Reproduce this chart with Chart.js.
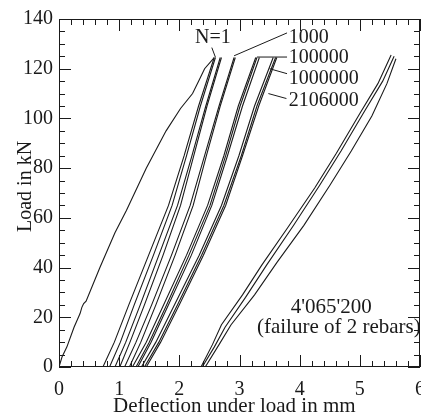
<!DOCTYPE html>
<html>
<head>
<meta charset="utf-8">
<script src="https://cdn.jsdelivr.net/npm/chart.js@4.4.0/dist/chart.umd.min.js"></script>
<style>
  html, body { margin: 0; padding: 0; background: #fff; }
</style>
</head>
<body>
<canvas id="load-chart" width="421" height="419"></canvas>
<script>
// first loading, N=1
const n1Defl = [0, 0.05, 0.13, 0.25, 0.35, 0.38, 0.41, 0.45, 0.68, 0.93, 1.12, 1.45, 1.78, 2.02, 2.22, 2.33, 2.42, 2.58];
const n1Load = [0, 4, 8, 16, 21.5, 24, 25.5, 26.5, 40, 54, 63, 80, 95, 104, 110, 115.5, 120, 124.5];

// load/unload branches N=1 .. 2106000 (same load levels)
const bundleLoad = [0, 10, 25, 45, 65, 85, 105, 124.5];
const bundleDefl = [
  [0.73, 0.92, 1.16, 1.49, 1.82, 2.08, 2.32, 2.58],
  [0.84, 1.02, 1.25, 1.57, 1.88, 2.12, 2.35, 2.60],
  [0.93, 1.11, 1.35, 1.66, 1.97, 2.21, 2.44, 2.68],
  [1.01, 1.18, 1.42, 1.73, 2.02, 2.24, 2.46, 2.70],
  [1.09, 1.28, 1.54, 1.87, 2.18, 2.42, 2.66, 2.91],
  [1.17, 1.36, 1.61, 1.93, 2.23, 2.45, 2.68, 2.93],
  [1.22, 1.45, 1.74, 2.12, 2.47, 2.74, 2.98, 3.27],
  [1.28, 1.50, 1.79, 2.16, 2.51, 2.77, 3.01, 3.29],
  [1.31, 1.53, 1.82, 2.20, 2.54, 2.80, 3.05, 3.33],
  [1.37, 1.61, 1.92, 2.33, 2.70, 2.99, 3.25, 3.56],
  [1.42, 1.66, 1.97, 2.37, 2.74, 3.03, 3.29, 3.60],
  [1.45, 1.69, 2.00, 2.40, 2.77, 3.05, 3.32, 3.62],
];

// 4'065'200 cycles (after failure of 2 rebars)
const farALoad = [0, 9, 17, 29, 41, 56, 72, 86, 102, 114, 125.5];
const farADefl = [2.36, 2.55, 2.70, 3.05, 3.37, 3.80, 4.25, 4.61, 5.00, 5.30, 5.52];
const farBLoad = [0, 8, 16, 28, 41, 57, 73, 87, 103, 115, 125];
const farBDefl = [2.38, 2.58, 2.76, 3.10, 3.45, 3.90, 4.33, 4.69, 5.08, 5.38, 5.57];
const farCLoad = [0, 9, 17, 29, 42, 57, 73, 87, 101, 114, 124];
const farCDefl = [2.43, 2.66, 2.86, 3.25, 3.62, 4.07, 4.50, 4.86, 5.20, 5.45, 5.60];

// labels: [text, x, y(baseline), leader from x,y, leader to x,y]
const cycleLabels = [
  ['N=1', 2.26, 130.3, 2.54, 128.5, 2.60, 124.6],
  ['1000', 3.82, 130.3, 3.79, 134.4, 2.91, 125.2],
  ['100000', 3.82, 122.3, 3.79, 124.7, 3.29, 124.7],
  ['1000000', 3.82, 114.0, 3.79, 118.0, 3.50, 120.0],
  ['2106000', 3.82, 105.0, 3.78, 108.0, 3.48, 110.0],
];
const noteLines = ["4'065'200", '(failure of 2 rebars)'];

const font = 'Liberation Serif';
const ink = '#1a1a1a';

const toPts = (xs, ys) => xs.map((v, i) => ({ x: v, y: ys[i] }));
const lineSet = (pts) => ({
  data: pts,
  showLine: true,
  borderColor: ink,
  borderWidth: 1.1,
  pointRadius: 0,
  fill: false,
});

const datasets = [lineSet(toPts(n1Defl, n1Load))];
bundleDefl.forEach((d) => datasets.push(lineSet(toPts(d, bundleLoad))));
datasets.push(lineSet(toPts(farADefl, farALoad)));
datasets.push(lineSet(toPts(farBDefl, farBLoad)));
datasets.push(lineSet(toPts(farCDefl, farCLoad)));

const frame = {
  id: 'frame',
  afterDraw(chart) {
    const { ctx, chartArea: a, scales } = chart;
    const x = scales.x;
    const y = scales.y;
    const seg = (x1, y1, x2, y2) => {
      ctx.beginPath();
      ctx.moveTo(x1, y1);
      ctx.lineTo(x2, y2);
      ctx.stroke();
    };
    ctx.save();
    ctx.strokeStyle = ink;
    ctx.lineWidth = 1;
    ctx.strokeRect(a.left + 0.5, a.top + 0.5, a.right - a.left - 1, a.bottom - a.top - 1);

    // inward ticks
    for (let i = 0; i <= 30; i++) {
      const px = Math.round(x.getPixelForValue(i * 0.2)) + 0.5;
      const len = i % 5 === 0 ? 12 : 6;
      seg(px, a.bottom, px, a.bottom - len);
      seg(px, a.top, px, a.top + len);
    }
    for (let i = 0; i <= 28; i++) {
      const py = Math.round(y.getPixelForValue(i * 5)) + 0.5;
      const len = i % 4 === 0 ? 12 : 6;
      seg(a.left, py, a.left + len, py);
      seg(a.right, py, a.right - len, py);
    }

    // cycle labels with leaders
    ctx.fillStyle = ink;
    ctx.font = '20px "' + font + '"';
    ctx.textBaseline = 'alphabetic';
    ctx.textAlign = 'left';
    cycleLabels.forEach((l) => {
      ctx.fillText(l[0], x.getPixelForValue(l[1]), y.getPixelForValue(l[2]));
      seg(x.getPixelForValue(l[3]), y.getPixelForValue(l[4]), x.getPixelForValue(l[5]), y.getPixelForValue(l[6]));
    });

    ctx.font = '21px "' + font + '"';
    ctx.fillText(noteLines[0], x.getPixelForValue(3.85), y.getPixelForValue(21.8));
    ctx.fillText(noteLines[1], x.getPixelForValue(3.29), y.getPixelForValue(13.5));

    // axis titles
    ctx.fillText('Deflection under load in mm', 113, 412);
    ctx.font = '20px "' + font + '"';
    ctx.translate(31, 232);
    ctx.rotate(-Math.PI / 2);
    ctx.fillText('Load in kN', 0, 0);
    ctx.restore();
  },
};

new Chart(document.getElementById('load-chart'), {
  type: 'scatter',
  data: { datasets },
  options: {
    responsive: false,
    animation: false,
    layout: { padding: { top: 19, right: 1, left: 0, bottom: 0 } },
    plugins: { legend: { display: false }, tooltip: { enabled: false } },
    elements: { line: { tension: 0 } },
    scales: {
      x: {
        type: 'linear',
        min: 0,
        max: 6,
        grid: { display: false, drawTicks: false },
        border: { display: false },
        ticks: { stepSize: 1, padding: 11, maxRotation: 0, autoSkip: false, color: ink, font: { family: font, size: 20 } },
        afterFit: (s) => { s.height = 52; s.paddingLeft = 0; s.paddingRight = 0; },
      },
      y: {
        type: 'linear',
        min: 0,
        max: 140,
        grid: { display: false, drawTicks: false },
        border: { display: false },
        ticks: { stepSize: 20, padding: 6, color: ink, font: { family: font, size: 20 } },
        afterFit: (s) => { s.width = 59; s.paddingTop = 0; s.paddingBottom = 0; },
      },
    },
  },
  plugins: [frame],
});
</script>
</body>
</html>
